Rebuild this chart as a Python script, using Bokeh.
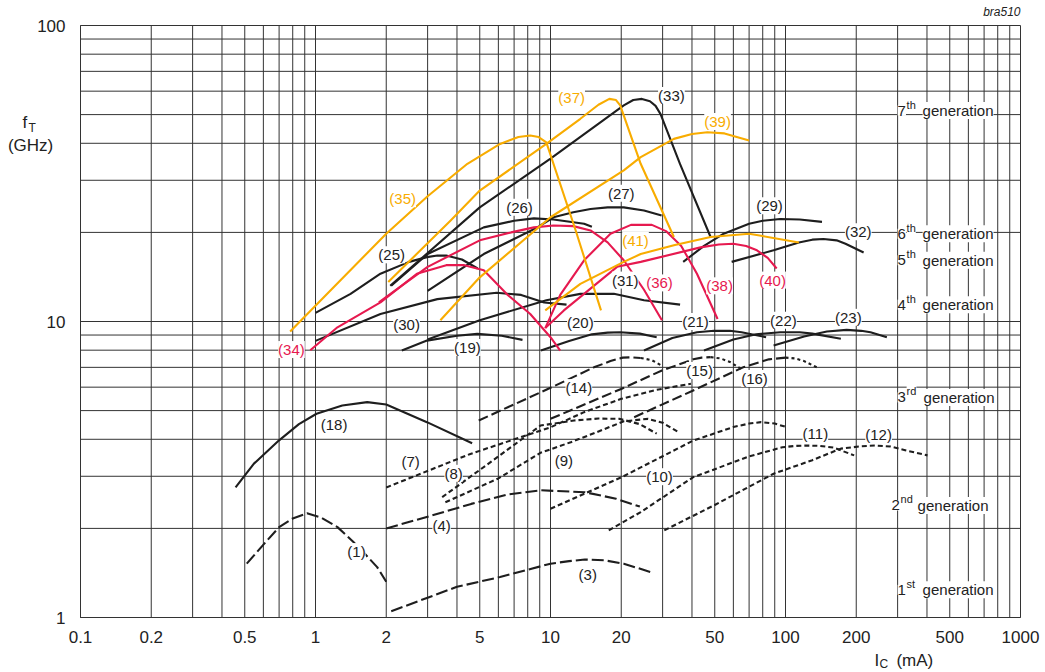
from bokeh.plotting import figure
from bokeh.models import FixedTicker, CustomJSTickFormatter, Label, Range1d
from bokeh.embed import file_html
from bokeh.resources import INLINE

# ---------------- data ----------------
x_ticks = [0.1, 0.2, 0.5, 1, 2, 5, 10, 20, 50, 100, 200, 500, 1000]
y_ticks = [1, 10, 100]
x_grid = [m * 10.0 ** e for e in range(-1, 3) for m in range(1, 10)] + [1000]
y_grid = [m * 10.0 ** e for e in range(0, 2) for m in range(1, 10)] + [100]

c1_x = [0.51, 0.603, 0.7, 0.8, 0.92, 1.05, 1.24, 1.45, 1.6, 1.83, 2.0]
c1_y = [1.52, 1.77, 2.02, 2.16, 2.25, 2.18, 2.02, 1.8, 1.66, 1.48, 1.32]
c3_x = [2.1, 4.0, 6.1, 10, 12, 14, 17, 20.5, 27]
c3_y = [1.05, 1.27, 1.37, 1.52, 1.55, 1.57, 1.56, 1.52, 1.42]
c4_x = [2.0, 3.0, 4.6, 6.5, 9.1, 14, 19, 24]
c4_y = [2.0, 2.19, 2.42, 2.6, 2.69, 2.65, 2.52, 2.37]
c7_x = [2.0, 4.56, 10, 13.9, 20, 28, 39.6]
c7_y = [2.75, 3.57, 4.39, 4.94, 5.48, 5.87, 6.16]
c8_x = [3.46, 6.0, 9.06, 12.6, 16, 19.6, 24, 28.3]
c8_y = [2.55, 3.5, 4.45, 4.63, 4.7, 4.69, 4.5, 4.18]
c9_x = [3.57, 6.0, 9.06, 12.2, 16, 20.5, 26, 30, 35]
c9_y = [2.45, 2.95, 3.6, 3.91, 4.25, 4.6, 4.69, 4.55, 4.23]
c10_x = [10, 20.1, 40.5, 60, 70, 78.6, 90, 101.7]
c10_y = [2.33, 2.98, 3.96, 4.4, 4.52, 4.57, 4.52, 4.39]
c11_x = [17.7, 24.2, 40.5, 70, 97, 110, 123, 140, 160, 196]
c11_y = [1.97, 2.27, 2.98, 3.5, 3.76, 3.8, 3.81, 3.8, 3.75, 3.53]
c12_x = [30.5, 50, 89, 130, 172, 210, 240, 280, 320, 402]
c12_y = [1.97, 2.4, 3.06, 3.4, 3.72, 3.79, 3.81, 3.78, 3.68, 3.53]
c14_x = [4.95, 10, 15.3, 18, 20.3, 22, 24.2]
c14_y = [4.63, 5.97, 7.0, 7.35, 7.55, 7.57, 7.53]
c14t_x = [24.2, 27, 29.7]
c14t_y = [7.53, 7.4, 7.1]
c15_x = [10, 20.1, 29.8, 40.5, 44, 48]
c15_y = [4.69, 5.93, 6.83, 7.45, 7.55, 7.58]
c15t_x = [48, 53, 58, 64.6]
c15t_y = [7.58, 7.5, 7.3, 6.92]
c16_x = [22.7, 40.5, 66, 85, 100]
c16_y = [4.75, 5.85, 7.0, 7.45, 7.55]
c16t_x = [100, 110, 120, 136]
c16t_y = [7.55, 7.5, 7.35, 7.0]
c18_x = [0.457, 0.547, 0.698, 0.85, 1.01, 1.3, 1.66, 2.0, 2.98, 4.64]
c18_y = [2.75, 3.31, 3.96, 4.5, 4.88, 5.2, 5.34, 5.24, 4.57, 3.88]
c19_x = [2.33, 2.98, 4.0, 4.88, 6.2, 7.6]
c19_y = [7.98, 8.62, 8.95, 9.08, 8.95, 8.67]
c20_x = [9.1, 12, 15, 17.5, 19.8, 24, 28.3]
c20_y = [7.98, 8.6, 9.05, 9.17, 9.2, 9.1, 8.85]
c21_x = [25, 33, 42, 49.6, 58, 65, 82.7]
c21_y = [7.98, 8.8, 9.2, 9.31, 9.3, 9.2, 8.85]
c22_x = [45, 60, 75, 95, 115, 130, 172]
c22_y = [7.98, 8.7, 9.05, 9.2, 9.2, 9.1, 8.74]
c23_x = [89, 120, 150, 182, 210, 230, 270]
c23_y = [8.3, 8.9, 9.25, 9.37, 9.3, 9.2, 8.85]
c25_x = [1.0, 1.41, 1.89, 2.5, 2.98, 3.3, 3.6, 4.2, 4.9]
c25_y = [10.7, 12.4, 14.5, 15.9, 16.5, 16.7, 16.7, 16.2, 15.1]
c26_x = [2.1, 3.0, 5.2, 7.0, 8.5, 10.3, 13.9, 15]
c26_y = [13.2, 16.9, 20.8, 21.9, 22.3, 22.1, 21.4, 20.9]
c27_x = [3.0, 5.2, 8.8, 10.3, 12.5, 14.8, 17.5, 20.5, 25, 29.7]
c27_y = [12.7, 16.9, 20.8, 22.5, 23.4, 24.0, 24.3, 24.3, 23.7, 22.8]
c29_x = [36.7, 45, 54.6, 70, 80, 95, 115, 143]
c29_y = [15.9, 18.0, 19.8, 21.4, 21.9, 22.2, 22.1, 21.7]
c30_x = [1.0, 1.89, 3.3, 5.9, 7.5, 9.4, 11.7]
c30_y = [8.6, 10.6, 11.9, 12.5, 12.3, 11.6, 11.4]
c31_x = [3.0, 5.0, 9.6, 13.4, 18.6, 25, 35.6]
c31_y = [8.7, 10.1, 11.8, 12.4, 12.4, 11.8, 11.4]
c32_x = [59, 89, 114, 130, 145, 165, 180, 215]
c32_y = [15.9, 17.4, 18.5, 18.9, 19.0, 18.8, 18.3, 17.1]
c33_x = [2.08, 5.0, 10, 20.5, 22.5, 24.5, 26.5, 28, 29.4, 35.6, 48]
c33_y = [13.2, 24.3, 35.5, 53.7, 56, 56.5, 55.5, 53.5, 50.2, 34, 19.3]
c34_x = [0.95, 1.24, 1.89, 2.7, 3.6, 4.3, 5.2, 6.5, 8.2, 10, 11]
c34_y = [8.0, 9.56, 11.6, 14.5, 15.5, 15.5, 14.9, 12.4, 10.6, 8.85, 7.98]
c35_x = [0.78, 1.2, 2.0, 3.0, 4.43, 6.1, 7.3, 8.2, 8.9, 9.6, 12.8, 16.4]
c35_y = [9.25, 13.1, 19.8, 26.5, 34.1, 39.8, 42.0, 42.5, 42.0, 40.3, 20.3, 10.9]
c36_x = [1.86, 3.0, 5.0, 6.8, 8.5, 10.3, 12.5, 14.8, 17.5, 20.5, 25, 29.8]
c36_y = [11.6, 15.3, 18.8, 20.0, 20.8, 21.1, 21.0, 20.3, 18.5, 16.1, 12.8, 10.1]
c37_x = [2.04, 3.75, 5.0, 9.6, 13.4, 16, 17.8, 19, 19.8, 24.2, 33.5]
c37_y = [13.6, 21.9, 27.7, 39.8, 48.4, 54, 56.5, 56, 53.7, 34.1, 19.3]
c38_x = [9.5, 11, 13.9, 18, 22, 27, 31, 36, 42, 51.4]
c38_y = [9.5, 12.3, 16.1, 19.8, 21.2, 21.2, 20.2, 18, 14.5, 10.2]
c39_x = [3.4, 5.0, 10, 20.5, 24.2, 33.5, 40, 46.5, 55, 70]
c39_y = [10.1, 14.1, 22.5, 32.4, 35.9, 41.4, 43, 43.6, 43.2, 40.9]
c40_x = [9.5, 11.4, 19.2, 24.2, 43.5, 52, 60, 68, 75.6, 84, 91.7]
c40_y = [9.5, 10.9, 15.3, 15.9, 17.8, 18.2, 18.3, 18.0, 17.4, 16.4, 15.1]
c41_x = [9.5, 13.4, 20.5, 24.2, 33.5, 48, 70, 114]
c41_y = [10.9, 13.4, 15.9, 16.9, 18.1, 19.3, 19.8, 18.5]

label_text = ["(1)", "(3)", "(4)", "(7)", "(8)", "(9)", "(10)", "(11)", "(12)",
              "(14)", "(15)", "(16)", "(18)", "(19)", "(20)", "(21)", "(22)", "(23)",
              "(25)", "(26)", "(27)", "(29)", "(30)", "(31)", "(32)", "(33)",
              "(34)", "(35)", "(36)", "(37)", "(38)", "(39)", "(40)", "(41)"]
label_x = [1.494, 14.4, 3.44, 2.54, 3.87, 11.4, 29.1, 134, 249,
           13.2, 43.1, 73.8, 1.20, 4.43, 13.4, 41.4, 98, 185,
           2.11, 7.38, 20.0, 85.5, 2.44, 20.8, 204, 32.7,
           0.79, 2.35, 29.1, 12.3, 52.4, 51.4, 88.1, 23.0]
label_y = [1.67, 1.40, 2.05, 3.37, 3.07, 3.39, 2.99, 4.18, 4.15,
           5.98, 6.83, 6.42, 4.49, 8.17, 9.92, 10.0, 10.1, 10.33,
           16.8, 24.3, 27.1, 24.6, 9.77, 13.8, 20.1, 58.0,
           8.04, 26.0, 13.5, 57.1, 13.2, 47.4, 13.8, 18.8]
label_kind = ["k"] * 26 + ["r", "o", "r", "o", "r", "o", "r", "o"]

gen_num = ["7", "6", "5", "4", "3", "2", "1"]
gen_sup = ["th", "th", "th", "th", "rd", "nd", "st"]
gen_y = [51.6, 19.8, 16.1, 11.4, 5.54, 2.39, 1.24]

# ---------------- layout / styles ----------------
W, H = 1040, 672
PAD_L, PAD_R, PAD_T, PAD_B = 80, 20, 25, 55
x_lo, x_hi = x_ticks[0], x_ticks[-1]
y_lo, y_hi = y_ticks[0], y_ticks[-1]
px_per_dec_x = (W - PAD_L - PAD_R) / 4.0
px_per_dec_y = (H - PAD_T - PAD_B) / 2.0
x_range = Range1d(x_lo * 10 ** (-PAD_L / px_per_dec_x), x_hi * 10 ** (PAD_R / px_per_dec_x))
y_range = Range1d(y_lo * 10 ** (-PAD_B / px_per_dec_y), y_hi * 10 ** (PAD_T / px_per_dec_y))

BLACK = "#1e1e1e"
ORANGE = "#F8AC00"
CRIMSON = "#E6194F"
GRID = "#333333"
TXT = "#222222"
FONT = "Liberation Sans"
colors = {"k": TXT, "o": ORANGE, "r": CRIMSON}

p = figure(width=W, height=H, x_axis_type="log", y_axis_type="log",
           x_range=x_range, y_range=y_range,
           output_backend="svg", toolbar_location=None, min_border=0)
p.background_fill_color = "white"
p.border_fill_color = "white"
p.outline_line_color = None
p.xgrid.visible = False
p.ygrid.visible = False

# grid (drawn over the 0.1..1000 x 1..100 area only)
p.multi_line(xs=[[g, g] for g in x_grid], ys=[[y_lo, y_hi]] * len(x_grid),
             line_color=GRID, line_width=1)
p.multi_line(xs=[[x_lo, x_hi]] * len(y_grid), ys=[[g, g] for g in y_grid],
             line_color=GRID, line_width=1)

# axes placed inside the frame at the chart's edges
p.xaxis.fixed_location = y_lo
p.yaxis.fixed_location = x_lo
p.xaxis.bounds = (x_lo, x_hi)
p.yaxis.bounds = (y_lo, y_hi)
p.xaxis.ticker = FixedTicker(ticks=x_ticks)
p.yaxis.ticker = FixedTicker(ticks=y_ticks)
fmt = "return tick.toString();"
p.xaxis.formatter = CustomJSTickFormatter(code=fmt)
p.yaxis.formatter = CustomJSTickFormatter(code=fmt)
for ax in (p.xaxis, p.yaxis):
    ax.major_tick_line_color = None
    ax.minor_tick_line_color = None
    ax.axis_line_color = GRID
    ax.major_label_text_font = FONT
    ax.major_label_text_font_size = "17px"
    ax.major_label_text_color = TXT
p.xaxis.major_label_standoff = 7
p.yaxis.major_label_standoff = 9

LONG = "12 4"
SHORT = "5 3"
MED = "10 4"
DOT = "3 3"

series = [
    (c1_x, c1_y, BLACK, LONG), (c3_x, c3_y, BLACK, LONG), (c4_x, c4_y, BLACK, LONG),
    (c7_x, c7_y, BLACK, SHORT), (c8_x, c8_y, BLACK, SHORT), (c9_x, c9_y, BLACK, SHORT),
    (c10_x, c10_y, BLACK, SHORT), (c11_x, c11_y, BLACK, SHORT), (c12_x, c12_y, BLACK, SHORT),
    (c14_x, c14_y, BLACK, MED), (c14t_x, c14t_y, BLACK, DOT),
    (c15_x, c15_y, BLACK, MED), (c15t_x, c15t_y, BLACK, DOT),
    (c16_x, c16_y, BLACK, MED), (c16t_x, c16t_y, BLACK, DOT),
    (c18_x, c18_y, BLACK, "solid"), (c19_x, c19_y, BLACK, "solid"),
    (c20_x, c20_y, BLACK, "solid"), (c21_x, c21_y, BLACK, "solid"),
    (c22_x, c22_y, BLACK, "solid"), (c23_x, c23_y, BLACK, "solid"),
    (c25_x, c25_y, BLACK, "solid"), (c26_x, c26_y, BLACK, "solid"),
    (c27_x, c27_y, BLACK, "solid"), (c29_x, c29_y, BLACK, "solid"),
    (c30_x, c30_y, BLACK, "solid"), (c31_x, c31_y, BLACK, "solid"),
    (c32_x, c32_y, BLACK, "solid"), (c33_x, c33_y, BLACK, "solid"),
    (c34_x, c34_y, CRIMSON, "solid"), (c36_x, c36_y, CRIMSON, "solid"),
    (c38_x, c38_y, CRIMSON, "solid"), (c40_x, c40_y, CRIMSON, "solid"),
    (c35_x, c35_y, ORANGE, "solid"), (c37_x, c37_y, ORANGE, "solid"),
    (c39_x, c39_y, ORANGE, "solid"), (c41_x, c41_y, ORANGE, "solid"),
]
for xs, ys, col, dash in series:
    p.line(xs, ys, line_color=col, line_width=2.1, line_dash=dash, line_join="round")

for t, x, y, k in zip(label_text, label_x, label_y, label_kind):
    p.add_layout(Label(x=x, y=y, text=t, text_align="center", text_baseline="middle",
                       text_font=FONT, text_font_size="15px", text_color=colors[k],
                       background_fill_color="white"))

for n, s, y in zip(gen_num, gen_sup, gen_y):
    dx = -6 if n == "2" else 0
    p.add_layout(Label(x=300, y=y, text=n, x_offset=dx, text_align="left",
                       text_baseline="middle", text_font=FONT, text_font_size="15px",
                       text_color=TXT, background_fill_color="white"))
    p.add_layout(Label(x=300, y=y, text=s, x_offset=dx + 9, y_offset=6, text_align="left",
                       text_baseline="middle", text_font=FONT, text_font_size="11px",
                       text_color=TXT, background_fill_color="white"))
    p.add_layout(Label(x=300, y=y, text="generation", x_offset=dx + 25 + (1 if s in ("rd", "nd") else 0),
                       text_align="left", text_baseline="middle", text_font=FONT,
                       text_font_size="15px", text_color=TXT,
                       background_fill_color="white"))

# titles (inside the frame, which spans the whole canvas)
p.add_layout(Label(x=x_hi, y=110.7, text="bra510", text_align="right", text_baseline="middle",
                   text_font=FONT, text_font_size="12px", text_font_style="italic",
                   text_color=TXT))
p.add_layout(Label(x=0.0566, y=47.0, text="f", text_align="left", text_baseline="middle",
                   text_font=FONT, text_font_size="17px", text_color=TXT))
p.add_layout(Label(x=0.0566, y=47.0, text="T", x_offset=6, y_offset=-5, text_align="left",
                   text_baseline="middle", text_font=FONT, text_font_size="12px",
                   text_color=TXT))
p.add_layout(Label(x=0.0613, y=39.3, text="(GHz)", text_align="center", text_baseline="middle",
                   text_font=FONT, text_font_size="17px", text_color=TXT))
p.add_layout(Label(x=239, y=0.716, text="I", text_align="left", text_baseline="middle",
                   text_font=FONT, text_font_size="17px", text_color=TXT))
p.add_layout(Label(x=239, y=0.716, text="C", x_offset=5, y_offset=-4, text_align="left",
                   text_baseline="middle", text_font=FONT, text_font_size="12px",
                   text_color=TXT))
p.add_layout(Label(x=239, y=0.716, text="(mA)", x_offset=22, text_align="left",
                   text_baseline="middle", text_font=FONT, text_font_size="17px",
                   text_color=TXT))

open("out.html", "w").write(file_html(p, INLINE))
